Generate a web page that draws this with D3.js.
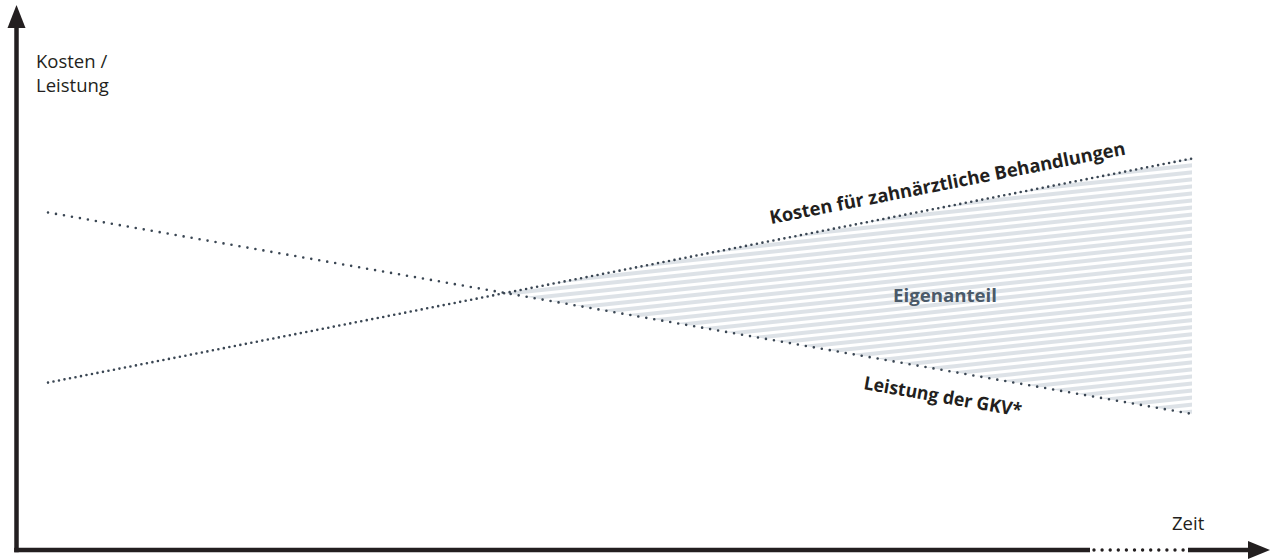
<!DOCTYPE html>
<html>
<head>
<meta charset="utf-8">
<script src="https://cdn.jsdelivr.net/npm/d3@7"></script>
<style>
  body { margin: 0; background: #fff; }
  text { font-family: "Open Sans", "Noto Sans", sans-serif; }
</style>
</head>
<body>
<svg id="chart" width="1273" height="559"></svg>
<script>
// schematic: time runs 0..100, cost / benefit on 0..100
var time = [0, 100];
var costs = [31, 72.5];   // Kosten für zahnärztliche Behandlungen
var gkv = [62.5, 25.2];   // Leistung der GKV*

var svg = d3.select('#chart');

var x = d3.scaleLinear().domain([0, 100]).range([48, 1192]);
var y = d3.scaleLinear().domain([0, 100]).range([550, 10]);

var ink = '#231f20', dots = '#3a4653';

// crossing point of the two lines
var sc = (costs[1] - costs[0]) / (time[1] - time[0]),
  sg = (gkv[1] - gkv[0]) / (time[1] - time[0]),
  tCross = time[0] + (gkv[0] - costs[0]) / (sc - sg);
function lin(arr, t) { return arr[0] + (arr[1] - arr[0]) * (t - time[0]) / (time[1] - time[0]); }

// hatch pattern
var defs = svg.append('defs');
var pat = defs.append('pattern')
  .attr('id', 'hatch')
  .attr('patternUnits', 'userSpaceOnUse')
  .attr('width', 40).attr('height', 7)
  .attr('patternTransform', 'rotate(-6)');
pat.append('rect').attr('x', 0).attr('y', 0).attr('width', 40).attr('height', 4).attr('fill', '#dde2e7');

var area = d3.area()
  .x(function (t) { return x(t); })
  .y0(function (t) { return y(lin(gkv, t)); })
  .y1(function (t) { return y(lin(costs, t)); });
svg.append('path').attr('d', area([tCross, time[1]])).attr('fill', 'url(#hatch)');

// dotted lines
var line = d3.line().x(function (d) { return x(d[0]); }).y(function (d) { return y(d[1]); });
svg.append('path')
  .attr('d', line(d3.zip(time, costs)))
  .attr('fill', 'none').attr('stroke', dots).attr('stroke-width', 2.6)
  .attr('stroke-linecap', 'round').attr('stroke-dasharray', '0 5.6');
svg.append('path')
  .attr('d', line(d3.zip(time, gkv)))
  .attr('fill', 'none').attr('stroke', dots).attr('stroke-width', 2.6)
  .attr('stroke-linecap', 'round').attr('stroke-dasharray', '0 8.1');

// axes
var ax = 16.5, ay = 550;
svg.append('line').attr('x1', ax).attr('x2', ax).attr('y1', ay + 2.3).attr('y2', 26)
  .attr('stroke', ink).attr('stroke-width', 4.5);
svg.append('polygon').attr('points', [[ax, 5], [ax - 9, 28], [ax + 9, 28]].join(' ')).attr('fill', ink);

svg.append('line').attr('x1', ax - 2.3).attr('x2', 1090).attr('y1', ay).attr('y2', ay)
  .attr('stroke', ink).attr('stroke-width', 4.5);
svg.append('line').attr('x1', 1094).attr('x2', 1184).attr('y1', ay).attr('y2', ay)
  .attr('stroke', ink).attr('stroke-width', 3.4).attr('stroke-linecap', 'round')
  .attr('stroke-dasharray', '0 8.1');
svg.append('line').attr('x1', 1188).attr('x2', 1252).attr('y1', ay).attr('y2', ay)
  .attr('stroke', ink).attr('stroke-width', 4.5);
svg.append('polygon').attr('points', [[1270, ay], [1248, ay - 9], [1248, ay + 9]].join(' ')).attr('fill', ink);

// axis labels
var yl = svg.append('text').attr('x', 36).attr('y', 68).attr('font-size', 18.5).attr('fill', ink);
yl.append('tspan').attr('x', 36).attr('dy', 0).text('Kosten /');
yl.append('tspan').attr('x', 36).attr('dy', 24).text('Leistung');
svg.append('text').attr('x', 1172).attr('y', 530).attr('font-size', 18.5).attr('fill', ink).text('Zeit');

// line labels
var angC = Math.atan2(y(costs[1]) - y(costs[0]), x(time[1]) - x(time[0])) * 180 / Math.PI;
var angG = Math.atan2(y(gkv[1]) - y(gkv[0]), x(time[1]) - x(time[0])) * 180 / Math.PI;

svg.append('text')
  .attr('transform', 'translate(771,224) rotate(' + angC + ')')
  .attr('font-size', 18.5).attr('font-weight', 'bold').attr('fill', ink)
  .attr('textLength', 362).attr('lengthAdjust', 'spacingAndGlyphs')
  .text('Kosten für zahnärztliche Behandlungen');

svg.append('text')
  .attr('transform', 'translate(863,389) rotate(' + angG + ')')
  .attr('font-size', 18.5).attr('font-weight', 'bold').attr('fill', ink)
  .attr('textLength', 160).attr('lengthAdjust', 'spacingAndGlyphs')
  .text('Leistung der GKV*');

svg.append('text')
  .attr('x', 945).attr('y', 302).attr('text-anchor', 'middle')
  .attr('font-size', 17.5).attr('font-weight', 'bold').attr('fill', '#4b5a69')
  .attr('textLength', 104).attr('lengthAdjust', 'spacingAndGlyphs')
  .text('Eigenanteil');
</script>
</body>
</html>
